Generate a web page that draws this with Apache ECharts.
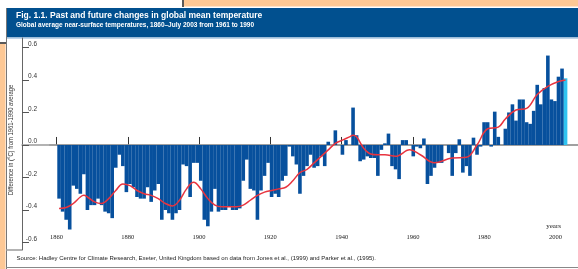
<!DOCTYPE html>
<html>
<head>
<meta charset="utf-8">
<script src="https://cdn.jsdelivr.net/npm/echarts@6/dist/echarts.min.js"></script>
<style>
  html, body { margin: 0; padding: 0; background: #fff; }
  #chart { width: 578px; height: 269px; }
</style>
</head>
<body>
<div id="chart"></div>
<script>
// annual anomalies (°C, vs 1961-1990), 1860 .. 2003 (2003 = Jan-July)
const startYear = 1860;
const anomalies = [
  -0.33, -0.41, -0.46, -0.52, -0.25, -0.27, -0.30, -0.18, -0.40, -0.37,
  -0.37, -0.33, -0.37, -0.41, -0.42, -0.45, -0.14, -0.06, -0.13, -0.29,
  -0.24, -0.26, -0.32, -0.33, -0.33, -0.26, -0.35, -0.28, -0.24, -0.46,
  -0.40, -0.42, -0.46, -0.42, -0.40, -0.12, -0.13, -0.32, -0.11, -0.11,
  -0.22, -0.46, -0.50, -0.41, -0.27, -0.41, -0.40, -0.40, -0.38, -0.40,
  -0.40, -0.39, -0.22, -0.09, -0.27, -0.28, -0.46, -0.28, -0.19, -0.11,
  -0.32, -0.30, -0.32, -0.22, -0.19, -0.01, -0.07, -0.12, -0.30, -0.19,
  -0.13, -0.06, -0.14, -0.13, -0.07, -0.13, 0.02, 0.00, 0.09, 0.00,
  -0.06, 0.03, 0.00, 0.23, 0.06, -0.10, -0.09, -0.07, -0.08, -0.08,
  -0.19, -0.03, 0.01, 0.07, -0.13, -0.15, -0.21, 0.03, 0.03, 0.00,
  -0.07, -0.01, -0.02, 0.04, -0.24, -0.19, -0.14, -0.11, -0.11, 0.00,
  -0.05, -0.19, -0.05, 0.035, -0.17, -0.13, -0.19, 0.045, -0.06, -0.01,
  0.14, 0.14, -0.01, 0.205, 0.05, 0.00, 0.10, 0.20, 0.25, 0.15,
  0.28, 0.28, 0.14, 0.13, 0.21, 0.37, 0.25, 0.35, 0.55, 0.28,
  0.27, 0.42, 0.47, 0.41
];

// smoothed curve (red)
const smoothYears = [
  1860, 1862, 1864, 1866, 1867, 1868, 1870, 1872, 1874, 1876, 1878, 1880,
  1882, 1884, 1886, 1888, 1890, 1892, 1894, 1896, 1898, 1900, 1902, 1904,
  1906, 1908, 1910, 1912, 1914, 1916, 1918, 1920, 1922, 1924, 1926, 1928,
  1930, 1932, 1934, 1936, 1938, 1940, 1942, 1943, 1944, 1946, 1948, 1950,
  1952, 1955, 1959, 1962, 1966, 1971, 1975, 1978, 1981, 1984, 1986, 1989,
  1992, 1995, 1998, 2001, 2003
];
const smoothValues = [
  -0.39, -0.385, -0.36, -0.32, -0.31, -0.32, -0.35, -0.36, -0.33, -0.28, -0.24, -0.25,
  -0.28, -0.30, -0.31, -0.33, -0.36, -0.375, -0.34, -0.27, -0.23, -0.27, -0.33, -0.37,
  -0.38, -0.38, -0.38, -0.37, -0.34, -0.31, -0.29, -0.28, -0.27, -0.26, -0.22, -0.17,
  -0.15, -0.11, -0.07, -0.03, 0.01, 0.03, 0.05, 0.06, 0.05, -0.02, -0.055, -0.06,
  -0.06, -0.07, -0.03, -0.06, -0.11, -0.08, -0.076, 0.0, 0.10, 0.11, 0.16, 0.215,
  0.225, 0.31, 0.36, 0.39, 0.40
];

const yearTicks = [1860, 1880, 1900, 1920, 1940, 1960, 1980, 2000];
const tempTicks = [-0.6, -0.4, -0.2, 0.0, 0.2, 0.4, 0.6];

const barData = anomalies.map((v, i) => [startYear + i, v]);
const lineData = smoothYears.map((y, i) => [y, smoothValues[i]]);
const lastIndex = anomalies.length - 1;

const BLUE = "#07509d";
const PEACH = "#fdc895";
const SANS = "'Liberation Sans', Arial, sans-serif";
const SERIF = "'Liberation Serif', 'DejaVu Serif', serif";

const chart = echarts.init(document.getElementById("chart"), null, { renderer: "canvas" });

chart.setOption({
  animation: false,
  backgroundColor: "#fff",
  grid: { left: 22, right: 0, top: 38, bottom: 19 },
  xAxis: [
    {
      // visible year axis
      type: "value",
      min: 1850.32,
      max: 2006.31,
      splitLine: { show: false },
      axisLine: { show: true, lineStyle: { color: "#9a9a9a", width: 1.5 } },
      axisTick: {
        show: true,
        inside: true,
        length: 8,
        customValues: yearTicks,
        lineStyle: { color: "#333", width: 1 }
      },
      axisLabel: {
        inside: true,
        margin: 9,
        customValues: yearTicks,
        formatter: v => String(v),
        fontFamily: SERIF,
        fontSize: 6.5,
        color: "#222"
      }
    },
    {
      // bars sit on a slightly narrower year scale in the original
      type: "value",
      min: 1849.53,
      max: 2006.51,
      show: false
    }
  ],
  yAxis: {
    type: "value",
    min: -0.646,
    max: 0.658,
    splitLine: { show: false },
    axisLine: { show: true, lineStyle: { color: "#666", width: 1 } },
    axisTick: {
      show: true,
      inside: true,
      length: 7,
      customValues: tempTicks,
      lineStyle: { color: "#555", width: 1 }
    },
    axisLabel: {
      inside: true,
      margin: 15,
      align: "right",
      verticalAlign: "bottom",
      customValues: tempTicks,
      formatter: v => v.toFixed(1),
      fontFamily: SANS,
      fontSize: 6.5,
      color: "#333"
    }
  },
  series: [
    {
      name: "anomaly",
      type: "bar",
      xAxisIndex: 1,
      barWidth: 3.6,
      data: barData,
      itemStyle: {
        color: p => (p.dataIndex === lastIndex ? "#2fc3f0" : BLUE)
      },
      markLine: {
        silent: true,
        symbol: "none",
        z: 1,
        lineStyle: { color: "#9a9a9a", width: 1.5, type: "solid" },
        label: { show: false },
        data: [[{ coord: [1857.2, 0] }, { coord: [2006.5, 0] }]]
      },
      z: 2
    },
    {
      name: "smoothed",
      type: "line",
      xAxisIndex: 1,
      data: lineData,
      smooth: 0.4,
      showSymbol: false,
      lineStyle: { color: "#e8343f", width: 1.5 },
      z: 5
    }
  ],
  graphic: [
    { type: "rect", silent: true, z: -10, shape: { x: 184, y: 0, width: 394, height: 6.5 }, style: { fill: PEACH } },
    { type: "line", silent: true, z: -9, shape: { x1: 183, y1: 0, x2: 183, y2: 7 }, style: { stroke: "#222", lineWidth: 1.5 } },
    { type: "rect", silent: true, z: -10, shape: { x: 0, y: 44, width: 5.5, height: 225 }, style: { fill: PEACH } },
    { type: "line", silent: true, z: -9, shape: { x1: 0, y1: 43, x2: 6, y2: 43 }, style: { stroke: "#222", lineWidth: 1.5 } },
    { type: "rect", silent: true, z: -10, shape: { x: 6, y: 8, width: 572, height: 29.5 }, style: { fill: "#01508f" } },
    { type: "line", silent: true, z: -9, shape: { x1: 6, y1: 38, x2: 578, y2: 38 }, style: { stroke: "#a9c6e0", lineWidth: 1.5 } },
    { type: "line", silent: true, z: -9, shape: { x1: 6.5, y1: 8, x2: 6.5, y2: 269 }, style: { stroke: "#777", lineWidth: 1 } },
    { type: "line", silent: true, z: -9, shape: { x1: 6, y1: 250, x2: 22, y2: 250 }, style: { stroke: "#9a9a9a", lineWidth: 1.5 } },
    { type: "line", silent: true, z: -9, shape: { x1: 6, y1: 267.5, x2: 578, y2: 267.5 }, style: { stroke: "#888", lineWidth: 1 } },
    {
      type: "text", x: 16, y: 20, scaleX: 0.945, z: 10,
      style: {
        text: "Fig. 1.1. Past and future changes in global mean temperature",
        fill: "#fff", fontFamily: SANS, fontWeight: "bold", fontSize: 9, verticalAlign: "bottom"
      }
    },
    {
      type: "text", x: 16, y: 28.5, scaleX: 1, z: 10,
      style: {
        text: "Global average near-surface temperatures, 1860\u2013July 2003 from 1961 to 1990",
        fill: "#fff", fontFamily: SANS, fontWeight: "bold", fontSize: 6.5, verticalAlign: "bottom"
      }
    },
    {
      type: "text", x: 11, y: 140, rotation: Math.PI / 2, scaleX: 0.9, z: 10,
      style: {
        text: "Difference in (\u00b0C) from 1961-1990 average",
        fill: "#333", fontFamily: SANS, fontSize: 6.5, align: "center", verticalAlign: "middle"
      }
    },
    {
      type: "text", x: 561, y: 226, z: 10,
      style: {
        text: "years", fill: "#222", fontFamily: SERIF, fontSize: 7, align: "right", verticalAlign: "middle"
      }
    },
    {
      type: "text", x: 16.5, y: 258.5, scaleX: 1, z: 10,
      style: {
        text: "Source: Hadley Centre for Climate Research, Exeter, United Kingdom based on data from Jones et al., (1999) and Parker et al., (1995).",
        fill: "#222", fontFamily: SANS, fontSize: 6, verticalAlign: "middle"
      }
    }
  ]
});
</script>
</body>
</html>
